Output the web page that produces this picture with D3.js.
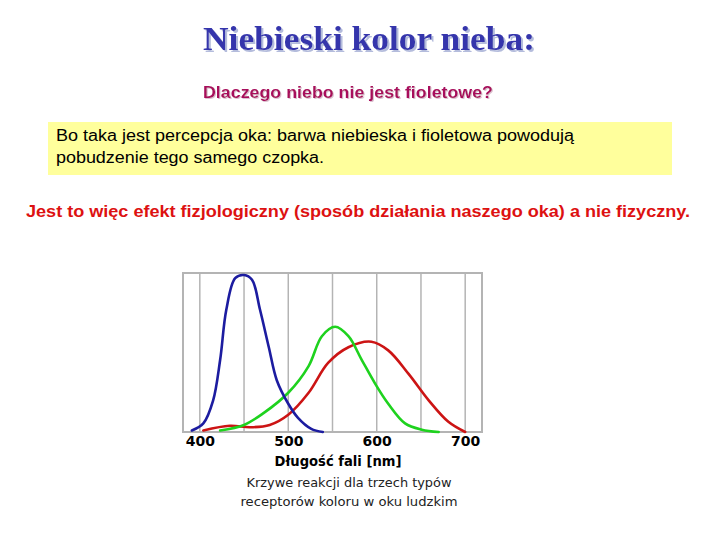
<!DOCTYPE html>
<html>
<head>
<meta charset="utf-8">
<script src="https://cdn.jsdelivr.net/npm/d3@7/dist/d3.min.js"></script>
<style>
  body { margin: 0; background: #fff; }
  svg { display: block; }
</style>
</head>
<body>
<svg id="chart" width="720" height="540"></svg>
<script>
// krzywe czulosci czopkow, wartosci wzgledne 0..1
const blueNm = [391, 404, 415, 423, 430, 440, 450, 459, 468, 478, 487, 500, 511, 526, 539];
const blueVal = [0.01, 0.055, 0.2, 0.46, 0.78, 0.98, 1.0, 0.97, 0.78, 0.54, 0.33, 0.18, 0.09, 0.02, 0.0];

const greenNm = [423, 450, 472, 500, 523, 538, 553, 568, 583, 598, 613, 632, 651, 670];
const greenVal = [0.01, 0.045, 0.12, 0.25, 0.42, 0.61, 0.67, 0.61, 0.46, 0.31, 0.18, 0.055, 0.015, 0.0];

const redNm = [404, 434, 457, 479, 500, 523, 545, 568, 594, 613, 636, 659, 681, 700];
const redVal = [0.01, 0.04, 0.03, 0.045, 0.11, 0.25, 0.44, 0.54, 0.575, 0.52, 0.37, 0.2, 0.065, 0.0];

const gridNm = [400, 450, 500, 550, 600, 650, 700];
const tickNm = [400, 500, 600, 700];

const title = 'Niebieski kolor nieba:';
const subtitle = 'Dlaczego niebo nie jest fioletowe?';
const boxLines = ['Bo taka jest percepcja oka: barwa niebieska i fioletowa powodują',
  'pobudzenie tego samego czopka.'];
const redLine = 'Jest to więc efekt fizjologiczny (sposób działania naszego oka) a nie fizyczny.';
const xLabel = 'Długość fali [nm]';
const caption = ['Krzywe reakcji dla trzech typów', 'receptorów koloru w oku ludzkim'];

const svg = d3.select('#chart');

// cienie pod tytulami (filtr zamiast drugiego tekstu)
const defs = svg.append('defs');
defs.append('filter').attr('id', 'shadowTitle')
  .append('feDropShadow')
  .attr('dx', 2).attr('dy', 2).attr('stdDeviation', 0)
  .attr('flood-color', '#b4bcdc');
defs.append('filter').attr('id', 'shadowSub')
  .append('feDropShadow')
  .attr('dx', 1).attr('dy', 1).attr('stdDeviation', 0)
  .attr('flood-color', '#dcc0d0');

// --- teksty ---
svg.append('text')
  .attr('x', 203).attr('y', 50)
  .attr('font-family', '"Liberation Serif", "Times New Roman", serif')
  .attr('font-weight', 'bold')
  .attr('font-size', 33)
  .attr('fill', '#3434ac')
  .attr('textLength', 332)
  .attr('lengthAdjust', 'spacingAndGlyphs')
  .attr('filter', 'url(#shadowTitle)')
  .text(title);

svg.append('text')
  .attr('x', 203).attr('y', 98)
  .attr('font-family', '"Liberation Sans", Arial, sans-serif')
  .attr('font-weight', 'bold')
  .attr('font-size', 16)
  .attr('fill', '#a8105c')
  .attr('textLength', 290)
  .attr('lengthAdjust', 'spacingAndGlyphs')
  .attr('filter', 'url(#shadowSub)')
  .text(subtitle);

svg.append('rect')
  .attr('x', 48).attr('y', 122)
  .attr('width', 624).attr('height', 53)
  .attr('fill', '#ffff9c');

svg.append('g')
  .attr('font-family', '"Liberation Sans", Arial, sans-serif')
  .attr('font-size', 16)
  .attr('fill', '#000')
  .selectAll('text')
  .data(boxLines)
  .enter()
  .append('text')
  .attr('x', 56)
  .attr('y', (d, i) => 141 + (i * 22))
  .attr('textLength', (d, i) => (i === 0 ? 518 : 268))
  .attr('lengthAdjust', 'spacingAndGlyphs')
  .text(d => d);

svg.append('text')
  .attr('x', 26).attr('y', 217)
  .attr('font-family', '"Liberation Sans", Arial, sans-serif')
  .attr('font-weight', 'bold')
  .attr('font-size', 16)
  .attr('fill', '#dd1111')
  .attr('textLength', 664)
  .attr('lengthAdjust', 'spacingAndGlyphs')
  .text(redLine);

// --- wykres ---
const x = d3.scaleLinear().domain([381, 719]).range([183, 482]);
const y = d3.scaleLinear().domain([0, 1]).range([432, 275]);

const plot = svg.append('g');

plot.append('rect')
  .attr('x', x.range()[0]).attr('y', 273)
  .attr('width', x.range()[1] - x.range()[0]).attr('height', 432 - 273)
  .attr('fill', '#fff')
  .attr('stroke', '#b4b4b4')
  .attr('stroke-width', 2);

plot.selectAll('.grid')
  .data(gridNm)
  .enter()
  .append('line')
  .attr('class', 'grid')
  .attr('x1', d => x(d)).attr('x2', d => x(d))
  .attr('y1', 273).attr('y2', 432)
  .attr('stroke', '#b4b4b4')
  .attr('stroke-width', 1.5);

const line = d3.line()
  .x(d => x(d[0]))
  .y(d => y(d[1]))
  .curve(d3.curveCatmullRom);

const curves = [
  { nm: redNm, val: redVal, color: '#cc1414' },
  { nm: greenNm, val: greenVal, color: '#1ed21e' },
  { nm: blueNm, val: blueVal, color: '#1c1ca0' },
];

curves.forEach(c => (
  plot.append('path')
    .datum(c.nm.map((n, i) => [n, c.val[i]]))
    .attr('fill', 'none')
    .attr('stroke', c.color)
    .attr('stroke-width', 2.6)
    .attr('stroke-linejoin', 'round')
    .attr('stroke-linecap', 'round')
    .attr('d', line)
));

const xAxis = d3.axisBottom(x).tickValues(tickNm).tickSize(0).tickPadding(4);
const axisG = plot.append('g')
  .attr('transform', 'translate(0,432)')
  .call(xAxis);
axisG.select('.domain').remove();
axisG.selectAll('text')
  .attr('font-family', '"DejaVu Sans", Verdana, sans-serif')
  .attr('font-weight', 'bold')
  .attr('font-size', 14)
  .attr('fill', '#000');

plot.append('text')
  .attr('x', 338).attr('y', 466)
  .attr('text-anchor', 'middle')
  .attr('font-family', '"DejaVu Sans", Verdana, sans-serif')
  .attr('font-weight', 'bold')
  .attr('font-size', 14)
  .attr('fill', '#000')
  .attr('textLength', 127)
  .attr('lengthAdjust', 'spacingAndGlyphs')
  .text(xLabel);

svg.append('g')
  .attr('font-family', '"DejaVu Sans", Verdana, sans-serif')
  .attr('font-size', 13)
  .attr('fill', '#222')
  .attr('text-anchor', 'middle')
  .selectAll('text')
  .data(caption)
  .enter()
  .append('text')
  .attr('x', 349)
  .attr('y', (d, i) => 487 + (i * 19))
  .attr('textLength', (d, i) => (i === 0 ? 205 : 217))
  .attr('lengthAdjust', 'spacingAndGlyphs')
  .text(d => d);
</script>
</body>
</html>
